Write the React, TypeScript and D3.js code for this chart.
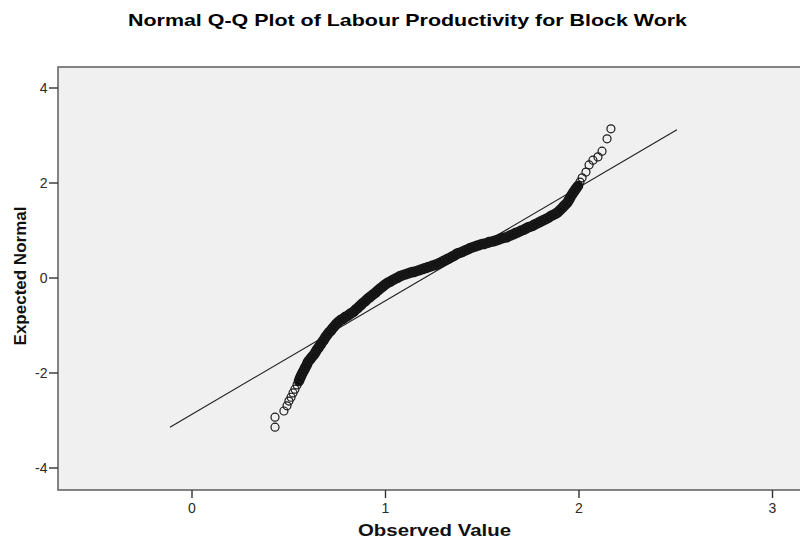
import * as d3 from "d3";

const observed = [
  0.429, 0.429, 0.475, 0.491, 0.501, 0.512, 0.522, 0.532, 0.543, 0.553,
  0.558, 0.565, 0.572, 0.579, 0.586, 0.593, 0.599, 0.609, 0.618, 0.627,
  0.636, 0.644, 0.653, 0.662, 0.671, 0.68, 0.689, 0.698, 0.707, 0.717,
  0.726, 0.735, 0.745, 0.755, 0.767, 0.78, 0.793, 0.806, 0.819, 0.832,
  0.844, 0.857, 0.87, 0.882, 0.895, 0.907, 0.92, 0.932, 0.945, 0.958,
  0.97, 0.982, 0.995, 1.008, 1.022, 1.035, 1.049, 1.063, 1.076, 1.09,
  1.105, 1.12, 1.134, 1.149, 1.164, 1.178, 1.193, 1.208, 1.223, 1.237,
  1.252, 1.267, 1.282, 1.296, 1.311, 1.326, 1.34, 1.355, 1.37, 1.383,
  1.397, 1.411, 1.425, 1.438, 1.452, 1.467, 1.482, 1.496, 1.511, 1.526,
  1.54, 1.555, 1.57, 1.584, 1.598, 1.613, 1.628, 1.642, 1.655, 1.669,
  1.683, 1.697, 1.711, 1.725, 1.74, 1.755, 1.769, 1.784, 1.798, 1.813,
  1.828, 1.842, 1.857, 1.872, 1.886, 1.897, 1.907, 1.917, 1.928, 1.938,
  1.946, 1.953, 1.961, 1.969, 1.978, 1.986, 1.995,
  2.005, 2.016, 2.036, 2.052, 2.072, 2.098, 2.119, 2.145, 2.165,
];

const expected = [
  -3.14, -2.93, -2.8, -2.69, -2.59, -2.51, -2.42, -2.34, -2.25, -2.17,
  -2.11, -2.05, -1.99, -1.94, -1.88, -1.83, -1.77, -1.72, -1.67, -1.63,
  -1.58, -1.52, -1.47, -1.42, -1.36, -1.31, -1.25, -1.2, -1.15, -1.11,
  -1.06, -1.02, -0.97, -0.93, -0.89, -0.86, -0.82, -0.79, -0.75, -0.72,
  -0.67, -0.63, -0.58, -0.53, -0.49, -0.44, -0.4, -0.36, -0.32, -0.27,
  -0.23, -0.19, -0.15, -0.11, -0.08, -0.05, -0.02, 0.01, 0.04, 0.06,
  0.08, 0.1, 0.12, 0.13, 0.15, 0.17, 0.19, 0.21, 0.23, 0.25,
  0.27, 0.29, 0.32, 0.35, 0.38, 0.41, 0.44, 0.47, 0.51, 0.53,
  0.55, 0.58, 0.6, 0.63, 0.65, 0.67, 0.69, 0.71, 0.72, 0.74,
  0.76, 0.77, 0.79, 0.81, 0.83, 0.85, 0.86, 0.89, 0.91, 0.94,
  0.96, 0.99, 1.01, 1.04, 1.07, 1.09, 1.12, 1.15, 1.18, 1.21,
  1.24, 1.27, 1.31, 1.34, 1.37, 1.41, 1.45, 1.49, 1.54, 1.58,
  1.63, 1.68, 1.74, 1.79, 1.84, 1.89, 1.94,
  2.02, 2.11, 2.23, 2.38, 2.48, 2.55, 2.67, 2.93, 3.14,
];

// reference line end points (observed, expected)
const refLineObs = [-0.114, 2.506];
const refLineExp = [-3.14, 3.12];

const xTicks = [0, 1, 2, 3];
const yTicks = [-4, -2, 0, 2, 4];

const W = 800;
const H = 543;
const plot = { left: 58, top: 67, right: 806, bottom: 490 };
const font = "'Liberation Sans', Arial, sans-serif";
const R = 4;

export default function App() {
  const x = d3.scaleLinear().domain([0, 3]).range([192, 772.5]);
  const y = d3.scaleLinear().domain([-4, 4]).range([468, 88]);

  const points = observed.map((o, i) => ({ px: x(o), py: y(expected[i]) }));

  // where the circles pile on top of each other they merge into a solid band
  const runs: { px: number; py: number }[][] = [];
  let cur: { px: number; py: number }[] = [];
  points.forEach((p, i) => {
    const prev = points[i - 1];
    if (prev && Math.hypot(p.px - prev.px, p.py - prev.py) < 3.8) {
      if (cur.length === 0) cur.push(prev);
      cur.push(p);
    } else {
      if (cur.length > 1) runs.push(cur);
      cur = [];
    }
  });
  if (cur.length > 1) runs.push(cur);

  const band = d3
    .line<{ px: number; py: number }>()
    .x((d) => d.px)
    .y((d) => d.py)
    .curve(d3.curveCatmullRom);

  const refLine = d3
    .line<number>()
    .x((d) => x(d))
    .y((_d, i) => y(refLineExp[i]));

  return (
    <svg
      width={W}
      height={H}
      style={{ position: "absolute", left: 0, top: 0, background: "#fff" }}
    >
      <defs>
        <clipPath id="plotClip">
          <rect
            x={plot.left}
            y={plot.top}
            width={plot.right - plot.left}
            height={plot.bottom - plot.top}
          />
        </clipPath>
      </defs>

      <text
        x={407.5}
        y={26}
        textAnchor="middle"
        fontFamily={font}
        fontWeight="bold"
        fontSize={17}
        textLength={559}
        lengthAdjust="spacingAndGlyphs"
        fill="#000"
      >
        Normal Q-Q Plot of Labour Productivity for Block Work
      </text>

      <rect
        x={plot.left}
        y={plot.top}
        width={plot.right - plot.left}
        height={plot.bottom - plot.top}
        fill="#f0f0f0"
        stroke="#666"
        strokeWidth={1.6}
      />

      <g clipPath="url(#plotClip)">
        <path
          d={refLine(refLineObs) ?? ""}
          fill="none"
          stroke="#222"
          strokeWidth={1.2}
        />
        {runs.map((run, i) => (
          <path
            key={"band" + i}
            d={band(run) ?? ""}
            fill="none"
            stroke="#0d0d0d"
            strokeWidth={10.5}
            strokeLinecap="round"
            strokeLinejoin="round"
          />
        ))}
        {points.map((p, i) => (
          <circle
            key={i}
            cx={p.px}
            cy={p.py}
            r={R}
            fill="none"
            stroke="#1a1a1a"
            strokeWidth={1.2}
          />
        ))}
      </g>

      {/* y axis */}
      {yTicks.map((t) => (
        <g key={"y" + t}>
          <line
            x1={plot.left - 9}
            x2={plot.left}
            y1={y(t)}
            y2={y(t)}
            stroke="#333"
            strokeWidth={1.4}
          />
          <text
            x={plot.left - 10.5}
            y={y(t) + 5}
            textAnchor="end"
            fontFamily={font}
            fontSize={14}
            fill="#2a2a2a"
          >
            {t < 0 ? "-" + Math.abs(t) : t}
          </text>
        </g>
      ))}

      {/* x axis */}
      {xTicks.map((t) => (
        <g key={"x" + t}>
          <line
            x1={x(t)}
            x2={x(t)}
            y1={plot.bottom}
            y2={plot.bottom + 8}
            stroke="#333"
            strokeWidth={1.4}
          />
          <text
            x={x(t)}
            y={plot.bottom + 23}
            textAnchor="middle"
            fontFamily={font}
            fontSize={14}
            fill="#2a2a2a"
          >
            {t}
          </text>
        </g>
      ))}

      <text
        x={434.5}
        y={536}
        textAnchor="middle"
        fontFamily={font}
        fontWeight="bold"
        fontSize={17}
        textLength={153}
        lengthAdjust="spacingAndGlyphs"
        fill="#111"
      >
        Observed Value
      </text>
      <text
        transform={`translate(26, 276) rotate(-90)`}
        textAnchor="middle"
        fontFamily={font}
        fontWeight="bold"
        fontSize={17}
        fill="#111"
      >
        Expected Normal
      </text>
    </svg>
  );
}
